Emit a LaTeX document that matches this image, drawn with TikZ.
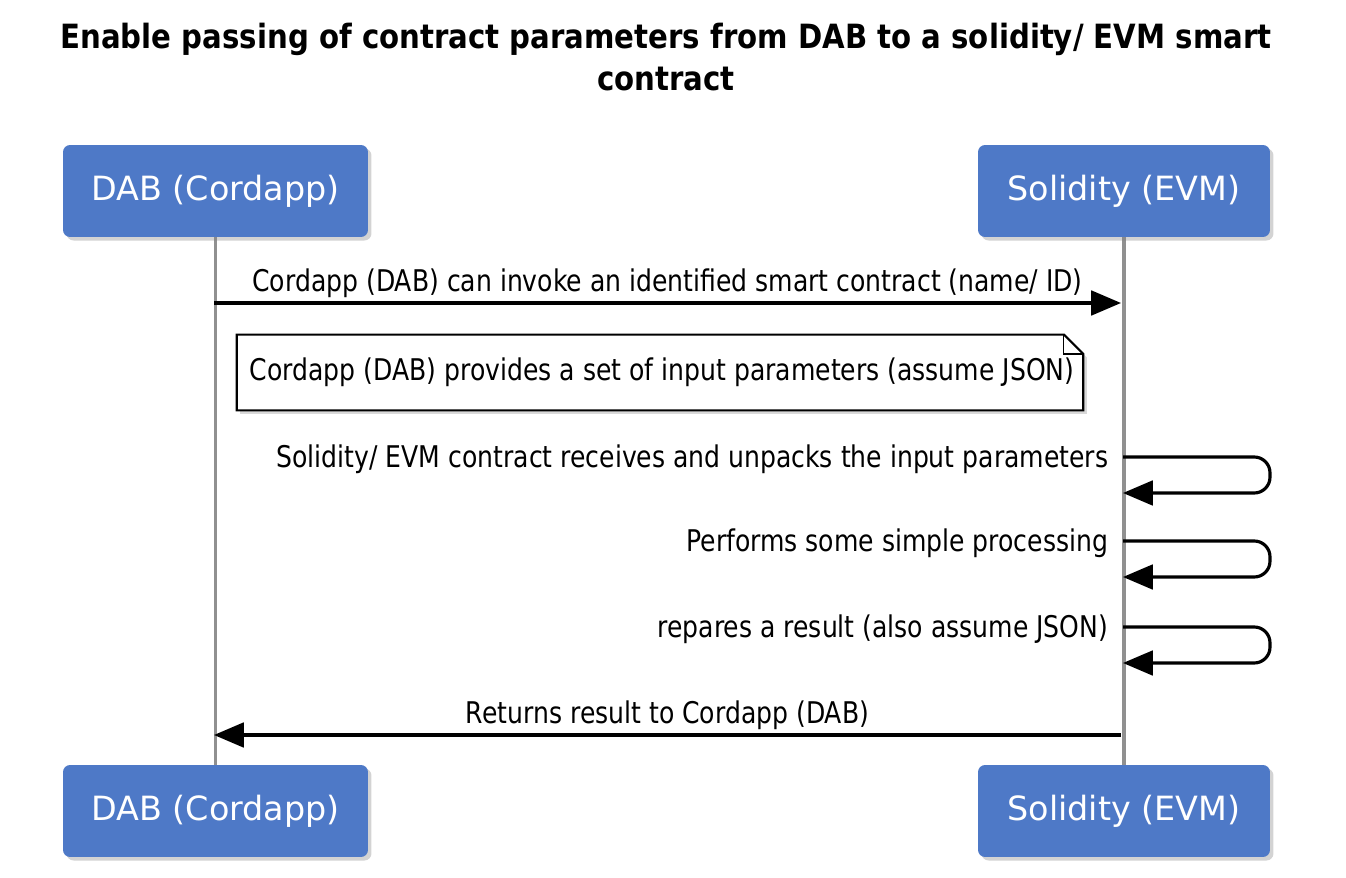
\documentclass[tikz,border=0pt]{standalone}
\usepackage{fontspec}
\setmainfont{DejaVu Sans}
\newfontfamily\msgfont[FakeStretch=0.84]{DejaVu Sans}
\newfontfamily\titlefont[FakeStretch=0.875]{DejaVu Sans}
\usetikzlibrary{arrows.meta,shadows,backgrounds}
\definecolor{headblue}{HTML}{4E79C7}
\definecolor{lifegray}{HTML}{909090}
\begin{document}
\begin{tikzpicture}[x=0.02cm,y=-0.02cm,
	actor/.style={rectangle,rounded corners=4pt,fill=headblue,text=white,
		font=\fontsize{19}{22}\selectfont,minimum height=1.84cm,
		drop shadow={shadow xshift=2pt,shadow yshift=-2pt,opacity=0.35}},
	msg/.style={line width=1.8pt,-{Triangle[length=17pt,width=14pt]}},
	lbl/.style={font=\msgfont\fontsize{17}{20}\selectfont,inner sep=2pt}]
	\useasboundingbox (0,0) rectangle (1346,878);
	\node[font=\titlefont\bfseries\fontsize{19}{24}\selectfont,align=center] (title) at (666,57)
		{Enable passing of contract parameters from DAB to a solidity/ EVM smart\\contract};
	\node[actor,minimum width=6.1cm] (dabtop) at (215.5,191) {DAB (Cordapp)};
	\node[actor,minimum width=5.84cm] (soltop) at (1124,191) {Solidity (EVM)};
	\node[actor,minimum width=6.1cm] (dabbot) at (215.5,811) {DAB (Cordapp)};
	\node[actor,minimum width=5.84cm] (solbot) at (1124,811) {Solidity (EVM)};
	% lifelines go behind the boxes
	\begin{scope}[on background layer]
	\foreach \from/\to in {dabtop/dabbot,soltop/solbot}
	\draw[lifegray,line width=1.8pt] (\from) -- (\to);
	\end{scope}
	\coordinate (d1) at (214,303);
	\coordinate (s1) at (1121,303);
	\draw[msg] (d1) -- node[lbl,above] {Cordapp (DAB) can invoke an identified smart contract (name/ ID)} (s1);
	\node[minimum width=16.92cm,minimum height=1.5cm,inner sep=0pt] (note) at (660,372.5) {};
	\draw[line width=1.2pt,fill=white,drop shadow={shadow xshift=2pt,shadow yshift=-2pt,opacity=0.3}]
		(note.north west) -- ([xshift=-11pt]note.north east) -- ([yshift=-11pt]note.north east)
		-- (note.south east) -- (note.south west) -- cycle;
	\draw[line width=0.6pt] ([xshift=-11pt]note.north east) |- ([yshift=-11pt]note.north east);
	\node[lbl,anchor=west] (notetext) at (246,372) {Cordapp (DAB) provides a set of input parameters (assume JSON)};
	\foreach \y/\txt in {457/Solidity\slash{} EVM contract receives and unpacks the input parameters,
		541/Performs some simple processing,627/repares a result (also assume JSON)} {
		\coordinate (a) at (1123,\y);
		\coordinate (b) at (1123,\y+36);
		\node[lbl,anchor=east] at (1112,\y+2) {\txt};
		\draw[msg,rounded corners=9pt] (a) -- (1270,\y) -- (1270,\y+36) -- (b);
	}
	\coordinate (s2) at (1121,735);
	\coordinate (d2) at (214,735);
	\draw[msg] (s2) -- node[lbl,above] {Returns result to Cordapp (DAB)} (d2);
\end{tikzpicture}
\end{document}
